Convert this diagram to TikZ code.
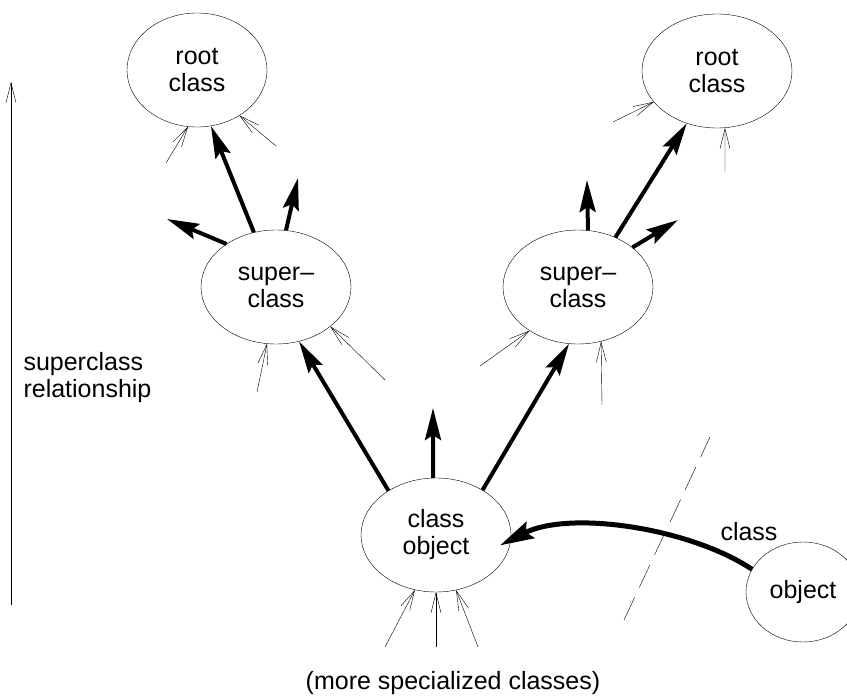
\documentclass[tikz,border=0pt]{standalone}
\usepackage{fontspec}
\setmainfont{Liberation Sans}
\usetikzlibrary{shapes.geometric,arrows.meta}

\begin{document}
\begin{tikzpicture}[x=1pt,y=-1pt,font=\fontsize{25}{27}\selectfont]
    \tikzstyle{cls}=[ellipse,draw=black,thin,minimum width=150pt,minimum height=114pt,inner sep=0pt,align=center]
    \tikzstyle{super}=[line width=4pt,-{Stealth[length=32pt,width=16pt,inset=5pt]}]
    \tikzstyle{sub}=[thin,-{Straight Barb[length=20pt,width=10pt]}]
    \useasboundingbox (0,0) rectangle (847,698);

    \node[cls,minimum width=140pt] (R-1) at (197,70) {root\\class};
    \node[cls] (R-2) at (717,71) {root\\class};
    \node[cls] (S-1) at (276,287) {super--\\class};
    \node[cls] (S-2) at (578,287) {super--\\class};
    \node[cls] (C) at (436,535) {class\\object};
    \node[cls,minimum width=114pt,minimum height=100pt] (O) at (803,592) {object};

    % loose ends
    \foreach \name/\x/\y in {U-1/167/219, U-2/298/178, U-3/433/408, U-4/587/180, U-5/678/220,
            L-1/166/163, L-2/276/146, L-3/257/392, L-4/385/380, L-5/480/366, L-6/602/405,
            L-7/613/122, L-8/725/172, L-9/385/647, L-10/436/647, L-11/478/647,
            A-1/11/605, A-2/11/82, D-1/624/620, D-2/710/437}
        \coordinate (\name) at (\x,\y);

    \foreach \from/\to in {S-1.112/R-1.-76, S-1.139/U-1, S-1.80/U-2, C.137/S-1.-67, C.93/U-3,
            C.44/S-2.-99, S-2.53/R-2.-120, S-2.80/U-4, S-2.36/U-5}
        \draw[super] (\from) -- (\to);

    \foreach \from/\to in {L-1/R-1.-99, L-2/R-1.-47, L-3/S-1.-99, L-4/S-1.-36, L-5/S-2.-138,
            L-6/S-2.-67, L-7/R-2.-154, L-8/R-2.-82, L-9/C.-111, L-10/C.-90, L-11/C.-70, A-1/A-2}
        \draw[sub] (\from) -- (\to);

    \draw[super,line width=5pt,-{Stealth[length=34pt,width=18pt,inset=5pt]}]
        (O.156) .. controls (690,528) and (570,510) .. ([xshift=-10pt]C.-8);
    \draw[thin,dash pattern=on 25pt off 11pt] (D-1) -- (D-2);

    \node (lbl) at (749,532) {class};
    \node[anchor=west,align=left] (rel) at (20,378) {superclass\\relationship};
    \node (spec) at (453,683) {(more specialized classes)};
\end{tikzpicture}
\end{document}
